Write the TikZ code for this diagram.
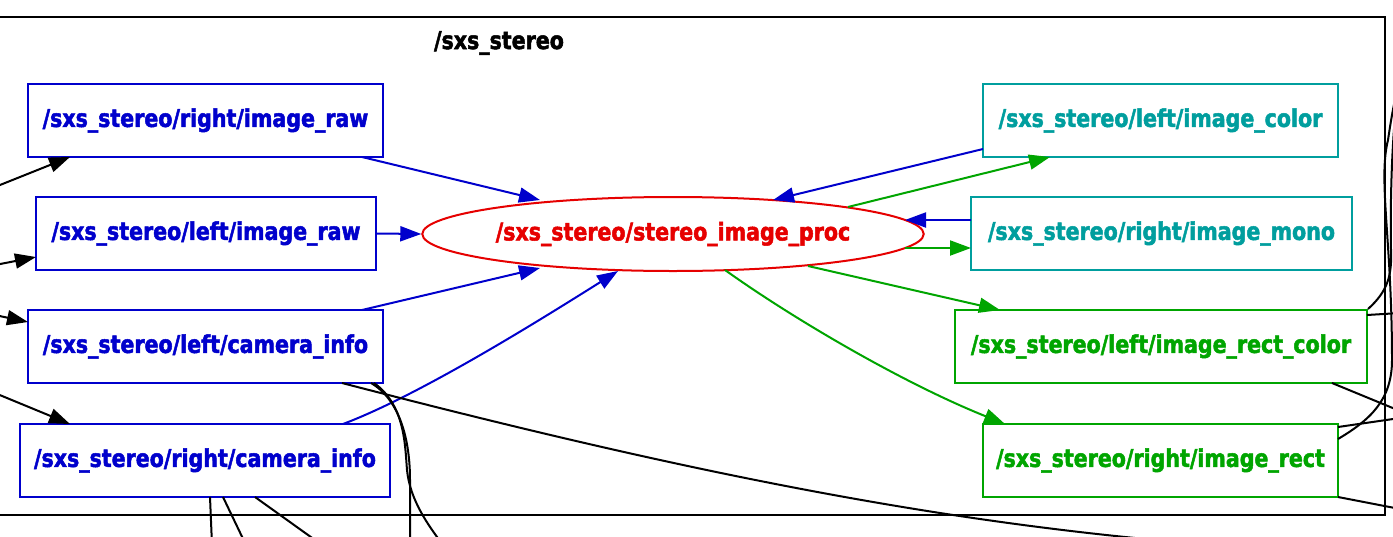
\documentclass[tikz,border=0pt]{standalone}
\usepackage{fontspec}
\setmainfont{DejaVu Sans}
\newfontfamily\labfont{DejaVu Sans Bold}[FakeStretch=0.84,FakeBold=2]
\usetikzlibrary{arrows.meta,shapes.geometric,calc}
\definecolor{cblue}{RGB}{0,0,204}
\definecolor{cred}{RGB}{230,0,0}
\definecolor{cteal}{RGB}{0,158,158}
\definecolor{cgreen}{RGB}{0,165,0}
\tikzset{
  lab/.style={font=\labfont\fontsize{24.5}{24.5}\selectfont},
  box/.style={lab, draw, rectangle, line width=2pt, inner sep=0pt, minimum height=73pt},
  bbox/.style={box, draw=cblue, text=cblue},
  tbox/.style={box, draw=cteal, text=cteal},
  gbox/.style={box, draw=cgreen, text=cgreen},
  tip/.style={-{Triangle[length=21pt,width=15pt]}},
  eblue/.style={tip, draw=cblue, line width=2pt},
  egreen/.style={tip, draw=cgreen, line width=2pt},
  eblack/.style={tip, draw=black, line width=2pt},
  wire/.style={draw=black, line width=2pt},
}
\begin{document}
\begin{tikzpicture}[x=1pt,y=-1pt]
\useasboundingbox (0,0) rectangle (1393,536);
\clip (0,0) rectangle (1393,536);
\fill[white] (0,0) rectangle (1393,536);
% cluster
\draw[line width=2pt] (-10,17) rectangle (1385,515);
\node[lab, text=black] (title) at (499,43) {/sxs\_stereo};
% nodes
\node[bbox, minimum width=355pt] (rraw) at (205.5,120.5) {/sxs\_stereo/right/image\_raw};
\node[bbox, minimum width=340pt] (lraw) at (206,233.5) {/sxs\_stereo/left/image\_raw};
\node[bbox, minimum width=355pt] (lcam) at (205.5,346.5) {/sxs\_stereo/left/camera\_info};
\node[bbox, minimum width=370pt] (rcam) at (205,460.5) {/sxs\_stereo/right/camera\_info};
\node[lab, ellipse, draw=cred, text=cred, line width=2pt, inner sep=0pt,
      minimum width=498pt, minimum height=74pt] (proc) at (673,234) {/sxs\_stereo/stereo\_image\_proc};
\node[tbox, minimum width=355pt] (lcol) at (1160.5,120.5) {/sxs\_stereo/left/image\_color};
\node[tbox, minimum width=381pt] (rmono) at (1161.5,233.5) {/sxs\_stereo/right/image\_mono};
\node[gbox, minimum width=412pt] (lrc) at (1161,346.5) {/sxs\_stereo/left/image\_rect\_color};
\node[gbox, minimum width=355pt] (rrect) at (1160.5,460.5) {/sxs\_stereo/right/image\_rect};
% inputs to proc
\draw[eblue] ($(rraw)+(156.5,36.5)$) -- ($(proc)+(-133,-34)$);
\draw[eblue] (lraw.east) -- (proc.west);
\draw[eblue] ($(lcam)+(156.5,-36.5)$) -- ($(proc)+(-133,34)$);
\draw[eblue] ($(rcam)+(138,-36.5)$) .. controls +(77,-29) and +(-78,49) .. ($(proc)+(-55,37)$);
\draw[eblue] ($(lcol)+(-177.5,28.5)$) -- ($(proc)+(100,-34)$);
\draw[eblue] ($(rmono)+(-190.5,-13.5)$) -- ($(proc)+(232,-14)$);
% outputs of proc
\draw[egreen] ($(proc)+(175,-27)$) -- ($(lcol)+(-110.5,36.5)$);
\draw[egreen] ($(proc)+(232,14)$) -- ($(rmono)+(-190.5,14.5)$);
\draw[egreen] ($(proc)+(135,32)$) -- ($(lrc)+(-161,-36.5)$);
\draw[egreen] ($(proc)+(52,36)$) .. controls +(70,50) and +(-100,-40) .. ($(rrect)+(-155.5,-36.5)$);
% external free ends
\coordinate (in1) at (-10,189);
\coordinate (in2) at (-10,266);
\coordinate (in3) at (-10,314);
\coordinate (in4) at (-10,391);
\draw[eblack] (in1) -- ($(rraw)+(-135.5,36.5)$);
\draw[eblack] (in2) -- ($(lraw)+(-170,23.5)$);
\draw[eblack] (in3) -- ($(lcam)+(-177.5,-24.5)$);
\draw[eblack] (in4) -- ($(rcam)+(-135,-36.5)$);
% outgoing wires at bottom
\coordinate (o1) at (1135,538);
\coordinate (o2) at (410,545);
\coordinate (o3) at (443,545);
\coordinate (o4) at (212,545);
\coordinate (o5) at (246,545);
\coordinate (o6) at (322,545);
\draw[wire] ($(lcam)+(136.5,36.5)$) .. controls +(300,78) and +(-250,-25) .. (o1);
\draw[wire] ($(lcam)+(165.5,36.5)$) .. controls +(29,17) and +(0,-40) .. (410,480) -- (o2);
\draw[wire] ($(lcam)+(168.5,36.5)$) .. controls +(31,22) and +(-2,-25) .. (407,470) .. controls +(3,30) and +(-15,-20) .. (o3);
\draw[wire] ($(rcam)+(5,36.5)$) -- (o4);
\draw[wire] ($(rcam)+(18,36.5)$) -- (o5);
\draw[wire] ($(rcam)+(50,36.5)$) -- (o6);
% outgoing wires at right
\coordinate (r1) at (1400,80);
\coordinate (r2) at (1400,84);
\coordinate (r3) at (1400,313);
\coordinate (r4) at (1400,411);
\coordinate (r5) at (1400,418);
\coordinate (r6) at (1400,509);
\draw[wire] (lrc.north east) .. controls +(20,-18) and +(1,25) .. (1391,250) .. controls +(-1,-50) and +(-8,40) .. (r1);
\draw[wire] ($(rrect)+(177.5,-21.5)$) .. controls +(32,-19) and +(0,40) .. (1392,360) .. controls +(0,-120) and +(-10,40) .. (1388,140) .. controls +(3,-20) and +(-5,10) .. (r2);
\draw[wire] ($(lrc)+(206,-31.5)$) -- (r3);
\draw[wire] ($(lrc)+(171,36.5)$) -- (r4);
\draw[wire] ($(rrect)+(177.5,-33.5)$) -- (r5);
\draw[wire] ($(rrect)+(177.5,36.5)$) -- (r6);
\end{tikzpicture}
\end{document}
